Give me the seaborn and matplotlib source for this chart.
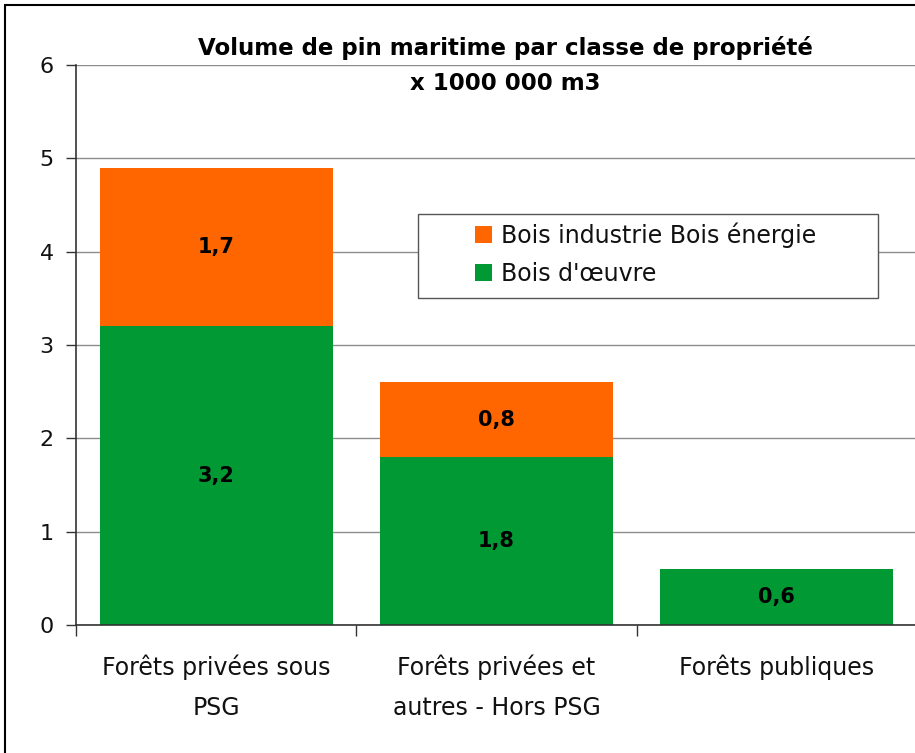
import matplotlib
matplotlib.use("Agg")
import matplotlib.pyplot as plt
import seaborn as sns
import pandas as pd
from matplotlib.patches import Patch, Rectangle
from matplotlib.ticker import FixedLocator, MultipleLocator

categories = ["Forêts privées sous\nPSG", "Forêts privées et\nautres - Hors PSG", "Forêts publiques"]
bois_oeuvre = [3.2, 1.8, 0.6]
bois_industrie = [1.7, 0.8, 0.0]
label_oeuvre = ["3,2", "1,8", "0,6"]
label_industrie = ["1,7", "0,8", ""]

GREEN = "#009933"
ORANGE = "#FF6600"

sns.set_theme(style="white")
plt.rcParams["font.family"] = ["DejaVu Sans"]
plt.rcParams["text.color"] = "black"

df = pd.DataFrame({
    "cat": categories,
    "oeuvre": bois_oeuvre,
    "industrie": bois_industrie,
})
df["total"] = df["oeuvre"] + df["industrie"]

fig = plt.figure(figsize=(9.15, 7.53), dpi=100)
ax_l, ax_r, ax_t, ax_b = 76, 917, 65, 625
ax = fig.add_axes([ax_l/915, 1-ax_b/753, (ax_r-ax_l)/915, (ax_b-ax_t)/753])

sns.barplot(data=df, x="cat", y="total", color=ORANGE, width=0.83, ax=ax,
            saturation=1, linewidth=0)
sns.barplot(data=df, x="cat", y="oeuvre", color=GREEN, width=0.83, ax=ax,
            saturation=1, linewidth=0)

ax.set_ylim(0, 6)
ax.set_xlim(-0.5, 2.5)
ax.yaxis.set_major_locator(MultipleLocator(1))
ax.grid(axis="y", color="#8c8c8c", linewidth=1.0)
ax.set_axisbelow(True)
ax.set_xlabel("")
ax.set_ylabel("")

for s in ["top", "right"]:
    ax.spines[s].set_visible(False)
for s in ["left", "bottom"]:
    ax.spines[s].set_visible(True)
    ax.spines[s].set_color("#333333")
    ax.spines[s].set_linewidth(1.2)

ax.tick_params(axis="y", which="major", length=7, width=1, color="#333333",
               labelsize=16, pad=9, left=True, direction="out", labelcolor="#111111")
ax.tick_params(axis="x", which="major", length=0, labelsize=17, pad=21, labelcolor="#111111")
ax.xaxis.set_minor_locator(FixedLocator([-0.5, 0.5, 1.5, 2.5]))
ax.tick_params(axis="x", which="minor", length=8, width=1, color="#333333",
               bottom=True, direction="out")
for lab in ax.get_xticklabels():
    lab.set_linespacing(1.85)

for i in range(len(categories)):
    ax.text(i, bois_oeuvre[i] / 2, label_oeuvre[i], ha="center", va="center",
            fontsize=15, fontweight="bold", color="black")
    if bois_industrie[i] > 0:
        ax.text(i, bois_oeuvre[i] + bois_industrie[i] / 2, label_industrie[i],
                ha="center", va="center", fontsize=15, fontweight="bold", color="black")

fig.text(505/915, 1-48/753, "Volume de pin maritime par classe de propriété",
         ha="center", va="center", fontsize=16.5, fontweight="bold", color="black")
fig.text(505/915, 1-83/753, "x 1000 000 m3",
         ha="center", va="center", fontsize=16.5, fontweight="bold", color="black")

# legend frame (Excel-style wide box)
lx0, lx1, ly0, ly1 = 418, 878, 214, 298
def axx(px):
    return (px - ax_l) / (ax_r - ax_l)
def axy(py):
    return (ax_b - py) / (ax_b - ax_t)
ax.add_patch(Rectangle((axx(lx0), axy(ly1)), axx(lx1) - axx(lx0), axy(ly0) - axy(ly1),
                       transform=ax.transAxes, facecolor="white", edgecolor="#555555",
                       linewidth=1.0, zorder=5))
handles = [Patch(facecolor=ORANGE, edgecolor="none"), Patch(facecolor=GREEN, edgecolor="none")]
leg = ax.legend(handles, ["Bois industrie Bois énergie", "Bois d'œuvre"],
                loc="center left", bbox_to_anchor=(axx(475), axy(254)),
                frameon=False, fontsize=17, handlelength=0.7,
                handleheight=0.7, handletextpad=0.4, borderpad=0, labelspacing=0.6,
                borderaxespad=0)
for t in leg.get_texts():
    t.set_color("#111111")
leg.set_zorder(6)

fig.patches.append(Rectangle((5/915, -0.05), 1.2, 1 - 5/753 + 0.05, transform=fig.transFigure,
                             fill=False, edgecolor="black", linewidth=1.5, zorder=10))

fig.savefig("out.png", dpi=100)
